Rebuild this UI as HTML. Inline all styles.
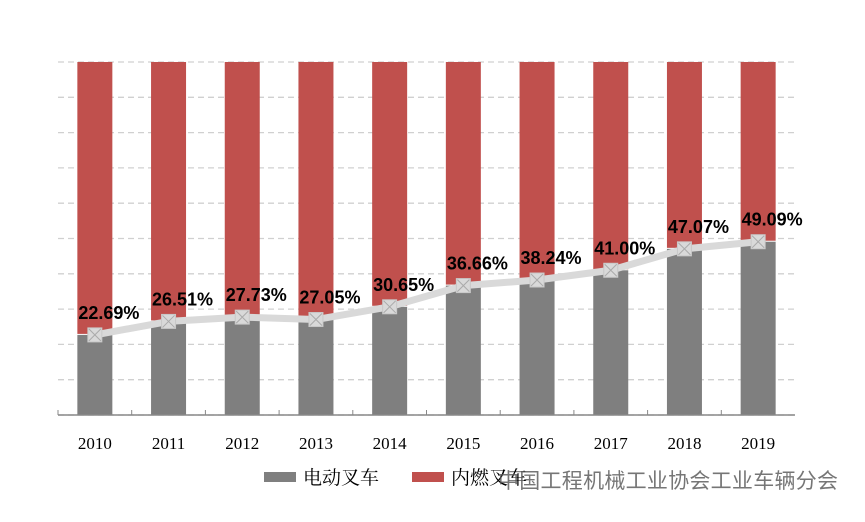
<!DOCTYPE html>
<html><head><meta charset="utf-8"><style>
body{margin:0;background:#fff;}
svg text{font-family:"Liberation Sans","Noto Sans CJK SC",sans-serif;}
</style></head><body>
<svg width="865" height="517" viewBox="0 0 865 517">
<g id="grid"></g>
<g id="bars"></g>
<g id="line"></g>
<g id="axis"></g>
<g>
<rect x="264" y="472" width="32" height="10" fill="#7f7f7f"/>
<text x="303" y="484" font-size="19" fill="#000" style="font-family:'Noto Serif CJK SC',serif">电动叉车</text>
<rect x="412" y="472" width="32" height="10" fill="#c0504d"/>
<text x="451" y="484" font-size="19" fill="#000" style="font-family:'Noto Serif CJK SC',serif">内燃叉车</text>
</g>
<text x="498" y="488" font-size="21" fill="#555" opacity="0.8" textLength="340">中国工程机械工业协会工业车辆分会</text>
</svg>
<script>
const categories=["2010","2011","2012","2013","2014","2015","2016","2017","2018","2019"];
const electricShare=[22.69,26.51,27.73,27.05,30.65,36.66,38.24,41.00,47.07,49.09];
const shareLabels=["22.69%","26.51%","27.73%","27.05%","30.65%","36.66%","38.24%","41.00%","47.07%","49.09%"];
const NS="http://www.w3.org/2000/svg";
const x0=58,x1=795,yb=415,yt=62;
const band=(x1-x0)/categories.length;
const xc=i=>x0+band*(i+0.5);
const y=v=>yb-(yb-yt)*(v/100);
function mk(tag,attrs,parent){const e=document.createElementNS(NS,tag);for(const k in attrs)e.setAttribute(k,attrs[k]);document.getElementById(parent).appendChild(e);return e;}
for(let k=0;k<=10;k++){const gy=y(k*10);
const g=mk('line',{x1:x0,x2:x1,y1:gy,y2:gy,stroke:'#d0d0d0','stroke-width':1.3,'stroke-dasharray':'6,4'},'grid');

}
const bw=35;
categories.forEach((c,i)=>{
const e=mk('rect',{x:xc(i)-bw/2,y:y(electricShare[i]),width:bw,height:yb-y(electricShare[i]),fill:'#7f7f7f'},'bars');


const r=mk('rect',{x:xc(i)-bw/2,y:y(100),width:bw,height:y(electricShare[i])-y(100)-1,fill:'#c0504d'},'bars');


const t=mk('text',{x:xc(i),y:yb+34,'text-anchor':'middle','font-size':17,fill:'#000',style:'font-family:"Liberation Serif",serif'},'axis');t.textContent=c;


const tk=mk('line',{x1:x0+band*i,x2:x0+band*i,y1:yb,y2:yb-5,stroke:'#888'},'axis');


});
const ax=mk('line',{x1:x0,x2:x1,y1:yb,y2:yb,stroke:'#888','stroke-width':1.5},'axis');


const pts=electricShare.map((v,i)=>xc(i)+','+y(v)).join(' ');
const pl=mk('polyline',{points:pts,fill:'none',stroke:'#d9d9d9','stroke-width':7,'stroke-linejoin':'round'},'line');


electricShare.forEach((v,i)=>{const cx=xc(i),cy=y(v);
const m=mk('rect',{x:cx-7,y:cy-7,width:14,height:14,fill:'#d9d9d9',stroke:'#c8c8c8'},'line');


mk('path',{d:`M${cx-6},${cy-6}L${cx+6},${cy+6}M${cx+6},${cy-6}L${cx-6},${cy+6}`,stroke:'#aaa','stroke-width':1},'line');
const t=mk('text',{x:cx+14,y:cy-16,'text-anchor':'middle','font-size':18,'font-weight':'bold',fill:'#000'},'line');
t.textContent=shareLabels[i];


});
</script>
</body></html>
